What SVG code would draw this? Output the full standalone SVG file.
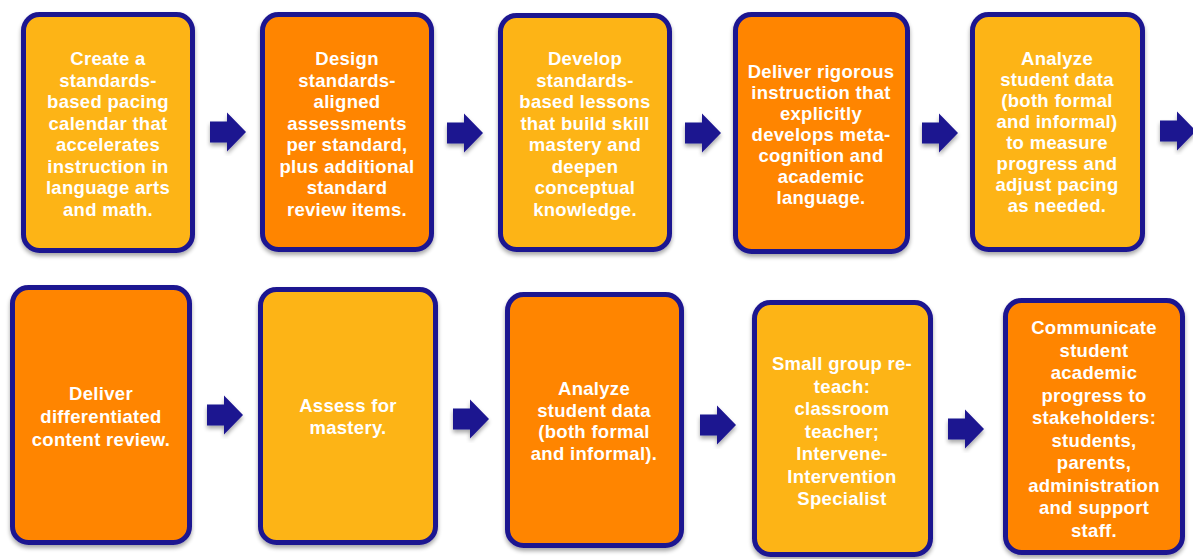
<svg xmlns="http://www.w3.org/2000/svg" xmlns:xlink="http://www.w3.org/1999/xlink" width="1193" height="559" viewBox="0 0 1193 559">
  <defs>
    <filter id="sh" x="-10%" y="-10%" width="120%" height="120%">
      <feGaussianBlur in="SourceAlpha" stdDeviation="2"/>
      <feOffset dx="0" dy="3"/>
      <feComponentTransfer><feFuncA type="linear" slope="0.35"/></feComponentTransfer>
      <feMerge><feMergeNode/><feMergeNode in="SourceGraphic"/></feMerge>
    </filter>
    <path id="arr" d="M0,-10.5 H17 V-19.5 L36,0 L17,19.5 V10.5 H0 Z"/>
  </defs>
  <style>
    .box { stroke: #1d1490; stroke-width: 5; filter: url(#sh); }
    .y { fill: #fdb414; }
    .o { fill: #ff8500; }
    text { font-family: "Liberation Sans", Arial, sans-serif; font-weight: bold; font-size: 18.5px; letter-spacing: 0.3px; fill: #ffffff; text-anchor: middle; }
    .arrow { fill: #1d1490; filter: url(#sh); }
  </style>
  <rect width="1193" height="559" fill="#ffffff"/>

  <g id="connectors">
    <use xlink:href="#arr" class="arrow" x="210" y="132"/>
    <use xlink:href="#arr" class="arrow" x="447" y="133"/>
    <use xlink:href="#arr" class="arrow" x="685" y="133"/>
    <use xlink:href="#arr" class="arrow" x="922" y="133"/>
    <use xlink:href="#arr" class="arrow" x="1160" y="131"/>
    <use xlink:href="#arr" class="arrow" x="207" y="415"/>
    <use xlink:href="#arr" class="arrow" x="453" y="419"/>
    <use xlink:href="#arr" class="arrow" x="700" y="425"/>
    <use xlink:href="#arr" class="arrow" x="948" y="429"/>
  </g>

  <g id="node1">
    <rect class="box y" x="23.5" y="14.5" width="169" height="236" rx="16"/>
    <text x="108"><tspan x="108" y="65">Create a</tspan><tspan x="108" y="86.5">standards-</tspan><tspan x="108" y="108">based pacing</tspan><tspan x="108" y="129.5">calendar that</tspan><tspan x="108" y="151">accelerates</tspan><tspan x="108" y="172.5">instruction in</tspan><tspan x="108" y="194">language arts</tspan><tspan x="108" y="215.5">and math.</tspan></text>
  </g>
  <g id="node2">
    <rect class="box o" x="262.5" y="14.5" width="169" height="235" rx="16"/>
    <text x="347"><tspan x="347" y="65">Design</tspan><tspan x="347" y="86.5">standards-</tspan><tspan x="347" y="108">aligned</tspan><tspan x="347" y="129.5">assessments</tspan><tspan x="347" y="151">per standard,</tspan><tspan x="347" y="172.5">plus additional</tspan><tspan x="347" y="194">standard</tspan><tspan x="347" y="215.5">review items.</tspan></text>
  </g>
  <g id="node3">
    <rect class="box y" x="500.5" y="15.5" width="169" height="234" rx="16"/>
    <text x="585"><tspan x="585" y="65">Develop</tspan><tspan x="585" y="86.5">standards-</tspan><tspan x="585" y="108">based lessons</tspan><tspan x="585" y="129.5">that build skill</tspan><tspan x="585" y="151">mastery and</tspan><tspan x="585" y="172.5">deepen</tspan><tspan x="585" y="194">conceptual</tspan><tspan x="585" y="215.5">knowledge.</tspan></text>
  </g>
  <g id="node4">
    <rect class="box o" x="735.5" y="14.5" width="172" height="237" rx="16"/>
    <text x="821"><tspan x="821" y="78">Deliver rigorous</tspan><tspan x="821" y="99">instruction that</tspan><tspan x="821" y="120">explicitly</tspan><tspan x="821" y="141">develops meta-</tspan><tspan x="821" y="162">cognition and</tspan><tspan x="821" y="183">academic</tspan><tspan x="821" y="204">language.</tspan></text>
  </g>
  <g id="node5">
    <rect class="box y" x="972.5" y="14.5" width="170" height="235" rx="16"/>
    <text x="1057"><tspan x="1057" y="65">Analyze</tspan><tspan x="1057" y="86">student data</tspan><tspan x="1057" y="107">(both formal</tspan><tspan x="1057" y="128">and informal)</tspan><tspan x="1057" y="149">to measure</tspan><tspan x="1057" y="170">progress and</tspan><tspan x="1057" y="191">adjust pacing</tspan><tspan x="1057" y="212">as needed.</tspan></text>
  </g>

  <g id="node6">
    <rect class="box o" x="12.5" y="287.5" width="177" height="255" rx="16"/>
    <text x="101"><tspan x="101" y="400">Deliver</tspan><tspan x="101" y="423">differentiated</tspan><tspan x="101" y="446">content review.</tspan></text>
  </g>
  <g id="node7">
    <rect class="box y" x="260.5" y="289.5" width="175" height="253" rx="16"/>
    <text x="348"><tspan x="348" y="412">Assess for</tspan><tspan x="348" y="433.5">mastery.</tspan></text>
  </g>
  <g id="node8">
    <rect class="box o" x="507.5" y="294.5" width="174" height="251" rx="16"/>
    <text x="594"><tspan x="594" y="395">Analyze</tspan><tspan x="594" y="416.5">student data</tspan><tspan x="594" y="438">(both formal</tspan><tspan x="594" y="459.5">and informal).</tspan></text>
  </g>
  <g id="node9">
    <rect class="box y" x="754.5" y="302.5" width="176" height="252" rx="16"/>
    <text x="842"><tspan x="842" y="370">Small group re-</tspan><tspan x="842" y="392.5">teach:</tspan><tspan x="842" y="415">classroom</tspan><tspan x="842" y="437.5">teacher;</tspan><tspan x="842" y="460">Intervene-</tspan><tspan x="842" y="482.5">Intervention</tspan><tspan x="842" y="505">Specialist</tspan></text>
  </g>
  <g id="node10">
    <rect class="box o" x="1005.5" y="300.5" width="177" height="252" rx="16"/>
    <text x="1094"><tspan x="1094" y="334">Communicate</tspan><tspan x="1094" y="356.5">student</tspan><tspan x="1094" y="379">academic</tspan><tspan x="1094" y="401.5">progress to</tspan><tspan x="1094" y="424">stakeholders:</tspan><tspan x="1094" y="446.5">students,</tspan><tspan x="1094" y="469">parents,</tspan><tspan x="1094" y="491.5">administration</tspan><tspan x="1094" y="514">and support</tspan><tspan x="1094" y="536.5">staff.</tspan></text>
  </g>
</svg>
